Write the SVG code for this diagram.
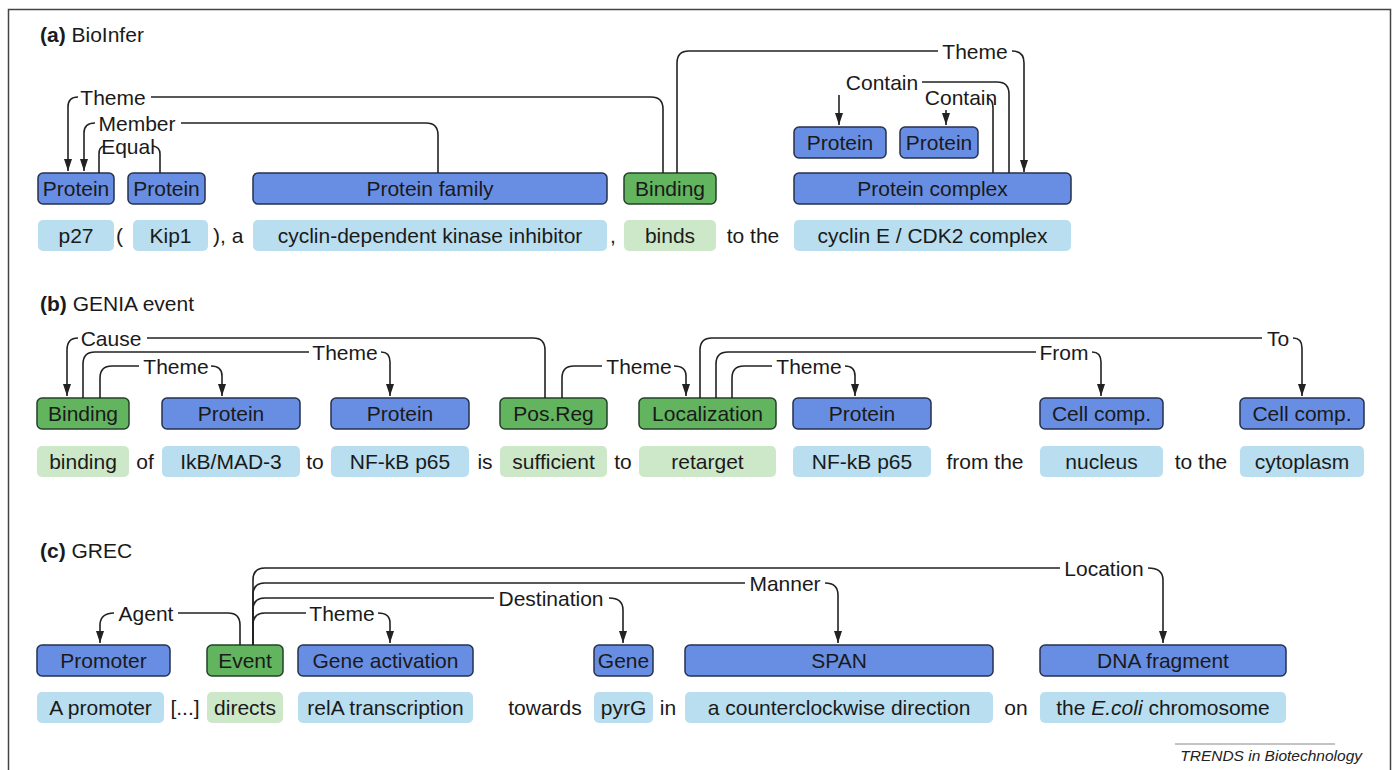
<svg xmlns="http://www.w3.org/2000/svg" width="1397" height="770" viewBox="0 0 1397 770">
<defs>
<style>
text{font-family:"Liberation Sans",Arial,sans-serif;font-size:21px;fill:#1a1a1a}
.t{text-anchor:middle}
.ent{fill:#688ee4;stroke:#26314d;stroke-width:1.5}
.evt{fill:#62b45f;stroke:#24402a;stroke-width:1.5}
.sp{fill:#b8def0}
.sg{fill:#cde8c9}
.c{fill:none;stroke:#222;stroke-width:1.6}
.a{marker-end:url(#ah)}
.ttl{font-size:21px}
.ft{font-size:15.5px;font-style:italic;text-anchor:end;fill:#222}
</style>
<marker id="ah" viewBox="0 0 12 8" refX="12" refY="4" markerWidth="12" markerHeight="8" orient="auto" markerUnits="userSpaceOnUse"><path d="M0,0 L12,4 L0,8 z" fill="#222"/></marker>
</defs>
<rect x="8.5" y="9.5" width="1382" height="790" fill="#fff" stroke="#444" stroke-width="1.5"/>

<!-- Section (a) -->
<text x="40" y="42" class="ttl"><tspan font-weight="bold">(a)</tspan> BioInfer</text>
<g id="a_sentence">
<rect class="sp" x="38" y="220" width="76" height="31" rx="5"/><text class="t" x="76" y="243">p27</text>
<text x="116" y="243">(</text>
<rect class="sp" x="133" y="220" width="75" height="31" rx="5"/><text class="t" x="170.5" y="243">Kip1</text>
<text x="213" y="243">), a</text>
<rect class="sp" x="253" y="220" width="354" height="31" rx="5"/><text class="t" x="430" y="243">cyclin-dependent kinase inhibitor</text>
<text x="610" y="243">,</text>
<rect class="sg" x="624" y="220" width="92" height="31" rx="5"/><text class="t" x="670" y="243">binds</text>
<text class="t" x="753" y="243">to the</text>
<rect class="sp" x="794" y="220" width="277" height="31" rx="5"/><text class="t" x="932.5" y="243">cyclin E / CDK2 complex</text>
</g>
<g id="a_protein1"><rect class="ent" x="38" y="173" width="76" height="31" rx="5"/><text class="t" x="76" y="196">Protein</text></g>
<g id="a_protein2"><rect class="ent" x="128" y="173" width="77" height="31" rx="5"/><text class="t" x="166.5" y="196">Protein</text></g>
<g id="a_family"><rect class="ent" x="253" y="173" width="354" height="31" rx="5"/><text class="t" x="430" y="196">Protein family</text></g>
<g id="a_binding"><rect class="evt" x="624" y="173" width="92" height="31" rx="5"/><text class="t" x="670" y="196">Binding</text></g>
<g id="a_complex"><rect class="ent" x="794" y="173" width="277" height="31" rx="5"/><text class="t" x="932.5" y="196">Protein complex</text></g>
<g id="a_protein3"><rect class="ent" x="794" y="127" width="92" height="31" rx="5"/><text class="t" x="840" y="150">Protein</text></g>
<g id="a_protein4"><rect class="ent" x="900" y="127" width="78" height="31" rx="5"/><text class="t" x="939" y="150">Protein</text></g>

<g id="a_connectors">
<path class="c" d="M663,173 V109 Q663,97 651,97 H151"/>
<path class="c a" d="M78,97 Q68,97 68,107 V171"/>
<text class="t" x="113" y="104.5">Theme</text>
<path class="c" d="M438,173 V135 Q438,123 426,123 H181"/>
<path class="c a" d="M95,123 Q84,123 84,133 V171"/>
<text class="t" x="137" y="130.5">Member</text>
<path class="c" d="M99,173 V154 Q99,147 104,146"/>
<path class="c" d="M153,146 Q160,147 160,154 V173"/>
<text class="t" x="128" y="153.5">Equal</text>
<path class="c" d="M677,173 V63 Q677,51 689,51 H938"/>
<path class="c a" d="M1012,51 Q1024,51 1024,63 V172"/>
<text class="t" x="975" y="58.5">Theme</text>
<path class="c" d="M1009,173 V94 Q1009,82 997,82 H922"/>
<path class="c a" d="M839,95 V125"/>
<text class="t" x="882" y="89.5">Contain</text>
<path class="c" d="M993,173 V108 Q993,99 987,98"/>
<path class="c a" d="M946,110 V125"/>
<text class="t" x="961" y="104.5">Contain</text>
</g>

<!-- Section (b) -->
<text x="40" y="311" class="ttl"><tspan font-weight="bold">(b)</tspan> GENIA event</text>
<g id="b_sentence">
<rect class="sg" x="37" y="446" width="92" height="31" rx="5"/><text class="t" x="83" y="469">binding</text>
<text class="t" x="145" y="469">of</text>
<rect class="sp" x="162" y="446" width="138" height="31" rx="5"/><text class="t" x="231" y="469">IkB/MAD-3</text>
<text class="t" x="315" y="469">to</text>
<rect class="sp" x="331" y="446" width="138" height="31" rx="5"/><text class="t" x="400" y="469">NF-kB p65</text>
<text class="t" x="485" y="469">is</text>
<rect class="sg" x="500" y="446" width="107" height="31" rx="5"/><text class="t" x="553.5" y="469">sufficient</text>
<text class="t" x="623" y="469">to</text>
<rect class="sg" x="639" y="446" width="137" height="31" rx="5"/><text class="t" x="707.5" y="469">retarget</text>
<rect class="sp" x="793" y="446" width="138" height="31" rx="5"/><text class="t" x="862" y="469">NF-kB p65</text>
<text class="t" x="985" y="469">from the</text>
<rect class="sp" x="1040" y="446" width="123" height="31" rx="5"/><text class="t" x="1101.5" y="469">nucleus</text>
<text class="t" x="1201" y="469">to the</text>
<rect class="sp" x="1240" y="446" width="124" height="31" rx="5"/><text class="t" x="1302" y="469">cytoplasm</text>
</g>
<g id="b_binding"><rect class="evt" x="37" y="398" width="92" height="31" rx="5"/><text class="t" x="83" y="421">Binding</text></g>
<g id="b_protein1"><rect class="ent" x="162" y="398" width="138" height="31" rx="5"/><text class="t" x="231" y="421">Protein</text></g>
<g id="b_protein2"><rect class="ent" x="331" y="398" width="138" height="31" rx="5"/><text class="t" x="400" y="421">Protein</text></g>
<g id="b_posreg"><rect class="evt" x="500" y="398" width="107" height="31" rx="5"/><text class="t" x="553.5" y="421">Pos.Reg</text></g>
<g id="b_localization"><rect class="evt" x="639" y="398" width="137" height="31" rx="5"/><text class="t" x="707.5" y="421">Localization</text></g>
<g id="b_protein3"><rect class="ent" x="793" y="398" width="138" height="31" rx="5"/><text class="t" x="862" y="421">Protein</text></g>
<g id="b_cell1"><rect class="ent" x="1040" y="398" width="123" height="31" rx="5"/><text class="t" x="1101.5" y="421">Cell comp.</text></g>
<g id="b_cell2"><rect class="ent" x="1240" y="398" width="124" height="31" rx="5"/><text class="t" x="1302" y="421">Cell comp.</text></g>

<g id="b_connectors">
<path class="c" d="M545,398 V350 Q545,338 533,338 H147"/>
<path class="c a" d="M78,338 Q67,338 67,350 V396"/>
<text class="t" x="111" y="345.5">Cause</text>
<path class="c" d="M83,398 V364 Q83,352 95,352 H309"/>
<path class="c a" d="M381,352 Q390,352 390,362 V396"/>
<text class="t" x="345" y="359.5">Theme</text>
<path class="c" d="M100,398 V378 Q100,366 112,366 H139"/>
<path class="c a" d="M211,366 Q222,366 222,376 V396"/>
<text class="t" x="176" y="373.5">Theme</text>
<path class="c" d="M562,398 V378 Q562,366 574,366 H602"/>
<path class="c a" d="M674,366 Q686,366 686,376 V396"/>
<text class="t" x="639" y="373.5">Theme</text>
<path class="c" d="M700,398 V350 Q700,338 712,338 H1262"/>
<path class="c a" d="M1293,338 Q1302,338 1302,348 V396"/>
<text class="t" x="1278" y="345.5">To</text>
<path class="c" d="M716,398 V364 Q716,352 728,352 H1036"/>
<path class="c a" d="M1092,352 Q1101,352 1101,362 V396"/>
<text class="t" x="1064" y="359.5">From</text>
<path class="c" d="M732,398 V378 Q732,366 744,366 H772"/>
<path class="c a" d="M845,366 Q855,366 855,376 V396"/>
<text class="t" x="809" y="373.5">Theme</text>
</g>

<!-- Section (c) -->
<text x="40" y="558" class="ttl"><tspan font-weight="bold">(c)</tspan> GREC</text>
<g id="c_sentence">
<rect class="sp" x="37" y="692" width="127" height="31" rx="5"/><text class="t" x="100.5" y="715">A promoter</text>
<text class="t" x="185" y="715">[...]</text>
<rect class="sg" x="207" y="692" width="76" height="31" rx="5"/><text class="t" x="245" y="715">directs</text>
<rect class="sp" x="298" y="692" width="175" height="31" rx="5"/><text class="t" x="385.5" y="715">relA transcription</text>
<text class="t" x="545" y="715">towards</text>
<rect class="sp" x="594" y="692" width="59" height="31" rx="5"/><text class="t" x="623.5" y="715">pyrG</text>
<text class="t" x="668" y="715">in</text>
<rect class="sp" x="685" y="692" width="308" height="31" rx="5"/><text class="t" x="839" y="715">a counterclockwise direction</text>
<text class="t" x="1016" y="715">on</text>
<rect class="sp" x="1040" y="692" width="246" height="31" rx="5"/><text class="t" x="1163" y="715">the <tspan font-style="italic">E.coli</tspan> chromosome</text>
</g>
<g id="c_promoter"><rect class="ent" x="37" y="645" width="133" height="31" rx="5"/><text class="t" x="103.5" y="668">Promoter</text></g>
<g id="c_event"><rect class="evt" x="207" y="645" width="76" height="31" rx="5"/><text class="t" x="245" y="668">Event</text></g>
<g id="c_geneact"><rect class="ent" x="298" y="645" width="175" height="31" rx="5"/><text class="t" x="385.5" y="668">Gene activation</text></g>
<g id="c_gene"><rect class="ent" x="594" y="645" width="59" height="31" rx="5"/><text class="t" x="623.5" y="668">Gene</text></g>
<g id="c_span"><rect class="ent" x="685" y="645" width="308" height="31" rx="5"/><text class="t" x="839" y="668">SPAN</text></g>
<g id="c_dna"><rect class="ent" x="1040" y="645" width="246" height="31" rx="5"/><text class="t" x="1163" y="668">DNA fragment</text></g>

<g id="c_connectors">
<path class="c" d="M240,645 V625 Q240,613 228,613 H178"/>
<path class="c a" d="M114,613 Q101,613 100,624 V643"/>
<text class="t" x="146" y="620.5">Agent</text>
<path class="c" d="M253,645 V625 Q253,613 265,613 H306"/>
<path class="c a" d="M378,613 Q390,613 390,623 V643"/>
<text class="t" x="342" y="620.5">Theme</text>
<path class="c" d="M253,645 V610 Q253,598 265,598 H494"/>
<path class="c a" d="M609,598 Q623,598 623,610 V643"/>
<text class="t" x="551" y="605.5">Destination</text>
<path class="c" d="M253,645 V595 Q253,583 265,583 H745"/>
<path class="c a" d="M825,583 Q838,583 838,595 V643"/>
<text class="t" x="785" y="590.5">Manner</text>
<path class="c" d="M253,645 V580 Q253,568 265,568 H1060"/>
<path class="c a" d="M1148,568 Q1163,568 1163,580 V643"/>
<text class="t" x="1104" y="575.5">Location</text>
</g>

<g id="footer">
<line x1="1175" y1="744" x2="1335" y2="744" stroke="#888" stroke-width="1"/>
<text class="ft" x="1362" y="761">TRENDS in Biotechnology</text>
</g>
</svg>
